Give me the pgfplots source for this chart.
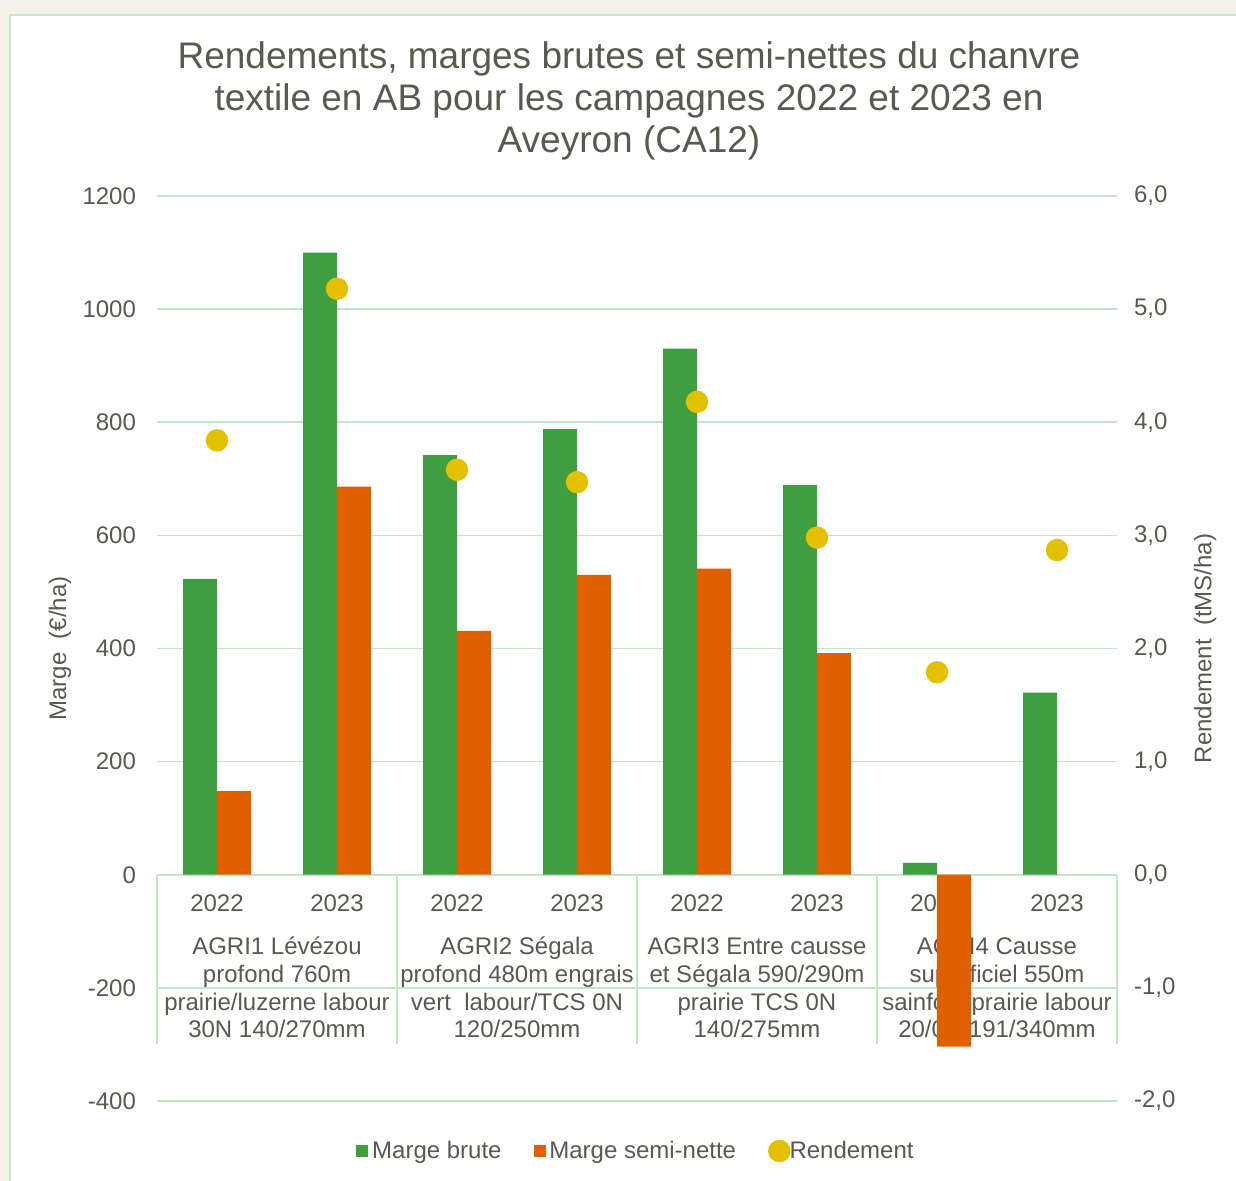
\documentclass[border=0pt]{standalone}
\usepackage{pgfplots}
\pgfplotsset{compat=1.18}
\usepackage{fontspec}
\setmainfont{Liberation Sans}
\definecolor{mgreen}{HTML}{3F9E3F}
\definecolor{morange}{HTML}{E06000}
\definecolor{myellow}{HTML}{E3C000}
\definecolor{gridg}{HTML}{C8E4C8}
\definecolor{borderg}{HTML}{C6E8C6}
\definecolor{bgbeige}{HTML}{F5F2EB}
\definecolor{txt}{HTML}{595950}
\tikzset{lab/.style={font=\fontsize{12}{14}\selectfont, text=txt, anchor=base, inner sep=0pt}}
\begin{document}
\begin{tikzpicture}
\useasboundingbox (0,0) rectangle (618pt,590.5pt);
\fill[bgbeige] (0,0) rectangle (618pt,590.5pt);
\fill[white] (5pt,0) rectangle (618pt,583pt);
\draw[borderg, line width=1pt] (5pt,0) -- (5pt,583pt) -- (618pt,583pt);
% title
\node[font=\fontsize{18.5}{21}\selectfont, text=txt, anchor=base] at (314.5pt,556pt) {Rendements, marges brutes et semi-nettes du chanvre};
\node[font=\fontsize{18.5}{21}\selectfont, text=txt, anchor=base] at (314.5pt,535pt) {textile en AB pour les campagnes 2022 et 2023 en};
\node[font=\fontsize{18.5}{21}\selectfont, text=txt, anchor=base] at (314.5pt,514pt) {Aveyron (CA12)};

\begin{axis}[
  at={(78.5pt,40pt)}, anchor=south west, scale only axis,
  width=480pt, height=452.5pt,
  xmin=-0.5, xmax=7.5, ymin=-400, ymax=1200,
  xtick=\empty, ytick={-400,-200,...,1200},
  ymajorgrids, grid style={gridg, line width=0.8pt},
  axis line style={draw=none}, major tick length=0pt, clip=false,
  yticklabel style={font=\fontsize{12}{14}\selectfont, text=txt, xshift=-7pt},
  /pgf/number format/assume math mode=true, /pgf/number format/1000 sep={},
  ylabel={Marge\ \ (€/ha)},
  ylabel style={at={(axis description cs:-0.101,0.5)}, anchor=center, font=\fontsize{12}{14}\selectfont, text=txt},
]
\addplot[draw=none] coordinates {(0,0)};
\foreach \xx in {-0.5,1.5,3.5,5.5,7.5} {
  \edef\tmp{\noexpand\draw[gridg, line width=0.8pt] (axis cs:\xx,0) -- (axis cs:\xx,-300);}
  \tmp
}
\node[lab, yshift=-18.3pt] at (axis cs:0,0) {2022};
\node[lab, yshift=-18.3pt] at (axis cs:1,0) {2023};
\node[lab, yshift=-18.3pt] at (axis cs:2,0) {2022};
\node[lab, yshift=-18.3pt] at (axis cs:3,0) {2023};
\node[lab, yshift=-18.3pt] at (axis cs:4,0) {2022};
\node[lab, yshift=-18.3pt] at (axis cs:5,0) {2023};
\node[lab, yshift=-18.3pt] at (axis cs:6,0) {2022};
\node[lab, yshift=-18.3pt] at (axis cs:7,0) {2023};
% group labels
\node[lab, yshift=-39.8pt] at (axis cs:0.5,0) {AGRI1 Lévézou};
\node[lab, yshift=-53.8pt] at (axis cs:0.5,0) {profond 760m};
\node[lab, yshift=-67.8pt] at (axis cs:0.5,0) {prairie/luzerne labour};
\node[lab, yshift=-81.3pt] at (axis cs:0.5,0) {30N 140/270mm};
\node[lab, yshift=-39.8pt] at (axis cs:2.5,0) {AGRI2 Ségala};
\node[lab, yshift=-53.8pt] at (axis cs:2.5,0) {profond 480m engrais};
\node[lab, yshift=-67.8pt] at (axis cs:2.5,0) {vert\ \ labour/TCS 0N};
\node[lab, yshift=-81.3pt] at (axis cs:2.5,0) {120/250mm};
\node[lab, yshift=-39.8pt] at (axis cs:4.5,0) {AGRI3 Entre causse};
\node[lab, yshift=-53.8pt] at (axis cs:4.5,0) {et Ségala 590/290m};
\node[lab, yshift=-67.8pt] at (axis cs:4.5,0) {prairie TCS 0N};
\node[lab, yshift=-81.3pt] at (axis cs:4.5,0) {140/275mm};
\node[lab, yshift=-39.8pt] at (axis cs:6.5,0) {AGRI4 Causse};
\node[lab, yshift=-53.8pt] at (axis cs:6.5,0) {superficiel 550m};
\node[lab, yshift=-67.8pt] at (axis cs:6.5,0) {sainfoin/prairie labour};
\node[lab, yshift=-81.3pt] at (axis cs:6.5,0) {20/0N 191/340mm};
\end{axis}

\begin{axis}[
  at={(78.5pt,40pt)}, anchor=south west, scale only axis,
  width=480pt, height=452.5pt,
  xmin=-0.5, xmax=7.5, ymin=-400, ymax=1200,
  hide axis, clip=false,
  ybar, bar width=17pt,
]
\addplot[fill=mgreen, draw=none, bar shift=-8.5pt] coordinates {
  (0,523) (1,1100) (2,742) (3,788) (4,930) (5,689) (6,21) (7,322)};
\addplot[fill=morange, draw=none, bar shift=8.5pt] coordinates {
  (0,148) (1,686) (2,431) (3,530) (4,541) (5,392) (6,-304)};
\end{axis}

\begin{axis}[
  at={(78.5pt,40pt)}, anchor=south west, scale only axis,
  width=480pt, height=452.5pt,
  xmin=-0.5, xmax=7.5, ymin=-2, ymax=6,
  axis x line=none, axis y line*=right,
  ytick={-2,-1,...,6},
  axis line style={draw=none}, major tick length=0pt, clip=false,
  yticklabel style={font=\fontsize{12}{14}\selectfont, text=txt, xshift=5pt, anchor=west},
  /pgf/number format/assume math mode=true,
  /pgf/number format/.cd, fixed, fixed zerofill, precision=1, use comma, /pgfplots/.cd,
  ylabel={Rendement\ \ (tMS/ha)},
  ylabel style={at={(axis description cs:1.0917,0.5)}, anchor=center, font=\fontsize{12}{14}\selectfont, text=txt},
  legend style={at={(0.5,0)}, anchor=center, yshift=-25pt, draw=none, fill=none,
    font=\fontsize{12}{14}\selectfont, text=txt,
    /tikz/every even column/.append style={column sep=14pt}},
  legend columns=3, legend cell align=left,
]
\addlegendimage{legend image code/.code={\fill[mgreen] (0pt,-2.75pt) rectangle (5.5pt,2.75pt);}}
\addlegendentry{Marge brute}
\addlegendimage{legend image code/.code={\fill[morange] (0pt,-2.75pt) rectangle (5.5pt,2.75pt);}}
\addlegendentry{Marge semi-nette}
\addplot[only marks, mark=*, mark size=5.4pt, color=myellow,
  legend image code/.code={\path (0pt,0pt) -- (8.3pt,0pt); \fill[myellow, overlay] (5.4pt,0pt) circle (5.4pt);}] coordinates {
  (0,3.84) (1,5.18) (2,3.58) (3,3.47) (4,4.18) (5,2.98) (6,1.79) (7,2.87)};
\addlegendentry{Rendement}
\end{axis}
\end{tikzpicture}
\end{document}
